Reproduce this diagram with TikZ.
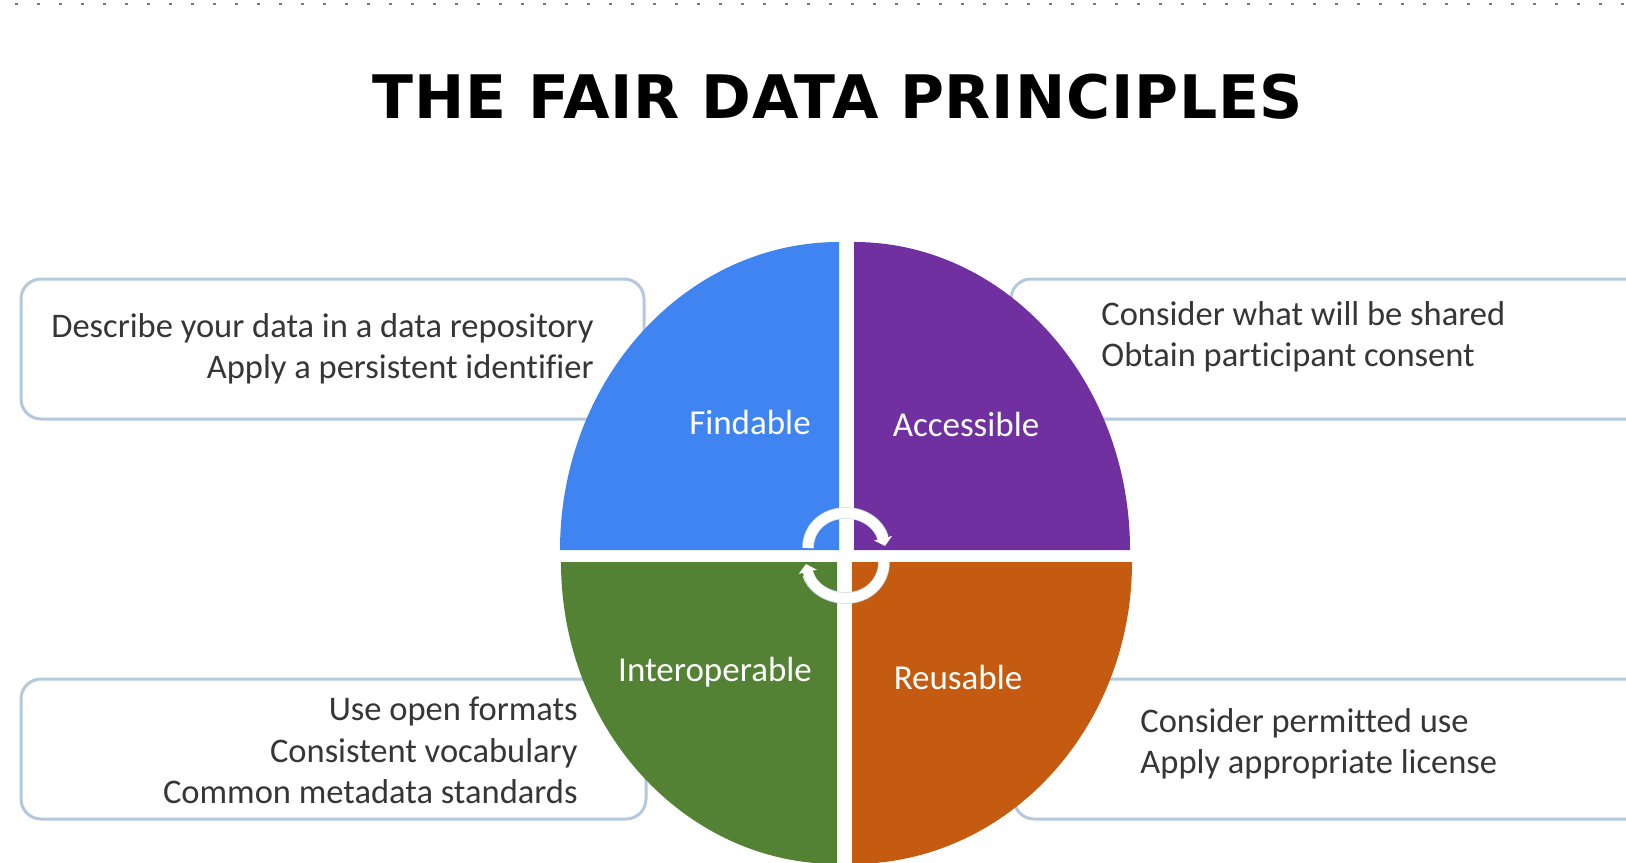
\documentclass[tikz,border=0pt]{standalone}
\usepackage{fontspec}
\usetikzlibrary{arrows.meta}
\setmainfont{Carlito}[RawFeature={-liga}]
\newfontfamily\titlefont{DejaVu Sans}[BoldFont={DejaVu Sans Bold},LetterSpace=1.4]
\definecolor{qblue}{HTML}{3F84F0}
\definecolor{qpurple}{HTML}{7030A0}
\definecolor{qgreen}{HTML}{548235}
\definecolor{qorange}{HTML}{C55A11}
\definecolor{boxline}{HTML}{B4C8DE}
\definecolor{dotcol}{HTML}{5F7F90}
\definecolor{bodytext}{HTML}{363636}
\tikzset{
  calloutbox/.style={draw=boxline,line width=1.5pt,rounded corners=10pt,fill=white},
  bodylabel/.style={text=bodytext,inner sep=0pt,font=\fontsize{17.25}{20.7}\selectfont},
  quadlabel/.style={text=white,inner sep=0pt,font=\fontsize{17.5}{20}\selectfont},
  ringunder/.style={draw=boxline!60,line width=5.8pt},
  ringarrow/.style={draw=white,line width=5pt,-{Triangle[width=9pt,length=4pt]}}
}
\begin{document}
\begin{tikzpicture}[x=0.5pt,y=-0.5pt]
\useasboundingbox (0,0) rectangle (1626,862);
\clip (0,0) rectangle (1626,862);
\fill[white] (0,0) rectangle (1626,862);
% dotted rule
\foreach \i in {0,...,73} {\fill[dotcol] ({15+22*\i},2.5) rectangle ({18+22*\i},5);}
% title
\node[font=\titlefont\bfseries\fontsize{30}{34}\selectfont,text=black,inner sep=0pt,anchor=base] (title) at (838,118) {THE FAIR DATA PRINCIPLES};
% callout boxes
\draw[calloutbox] (21,279) rectangle (644,419);
\draw[calloutbox] (1011,279) rectangle (1660,419);
\draw[calloutbox] (21,679) rectangle (646,819);
\draw[calloutbox] (1014,679) rectangle (1660,819);
% quadrants
\fill[qblue] (839,550) -- (560,550) .. controls (560,380) and (685,242) .. (839,242) -- cycle;
\fill[qpurple] (854,550) -- (854,242) .. controls (1006,242) and (1130,380) .. (1130,550) -- cycle;
\fill[qgreen] (837,562) -- (561,562) .. controls (561,729) and (685,864) .. (837,864) -- cycle;
\fill[qorange] (852,562) -- (852,864) .. controls (1007,864) and (1132,729) .. (1132,562) -- cycle;
% ring
\draw[ringunder] (808,548) .. controls (808,528) and (824,513) .. (846,513) .. controls (866,513) and (880,526) .. (883,538);
\draw[ringunder] (884,562) .. controls (884,582) and (868,598) .. (846,598) .. controls (826,598) and (811,586) .. (808,574);
\draw[ringarrow] (808,548) .. controls (808,528) and (824,513) .. (846,513) .. controls (866,513) and (880,526) .. (885,546);
\draw[ringarrow] (884,562) .. controls (884,582) and (868,598) .. (846,598) .. controls (826,598) and (811,586) .. (806,564);
% quadrant labels
\node[quadlabel] (findable) at (750,422) {Findable};
\node[quadlabel] (accessible) at (966,424) {Accessible};
\node[quadlabel] (interoperable) at (715,672) {Interoperable};
\node[quadlabel] (reusable) at (958,677) {Reusable};
% callout text
\node[bodylabel,align=right,anchor=east] (ftext) at (594,349) {Describe your data in a data repository\\Apply a persistent identifier};
\node[bodylabel,align=left,anchor=west] (atext) at (1101,337) {Consider what will be shared\\Obtain participant consent};
\node[bodylabel,align=right,anchor=east] (itext) at (578,750.5) {Use open formats\\Consistent vocabulary\\Common metadata standards};
\node[bodylabel,align=left,anchor=west] (rtext) at (1140,744) {Consider permitted use\\Apply appropriate license};
\end{tikzpicture}
\end{document}
